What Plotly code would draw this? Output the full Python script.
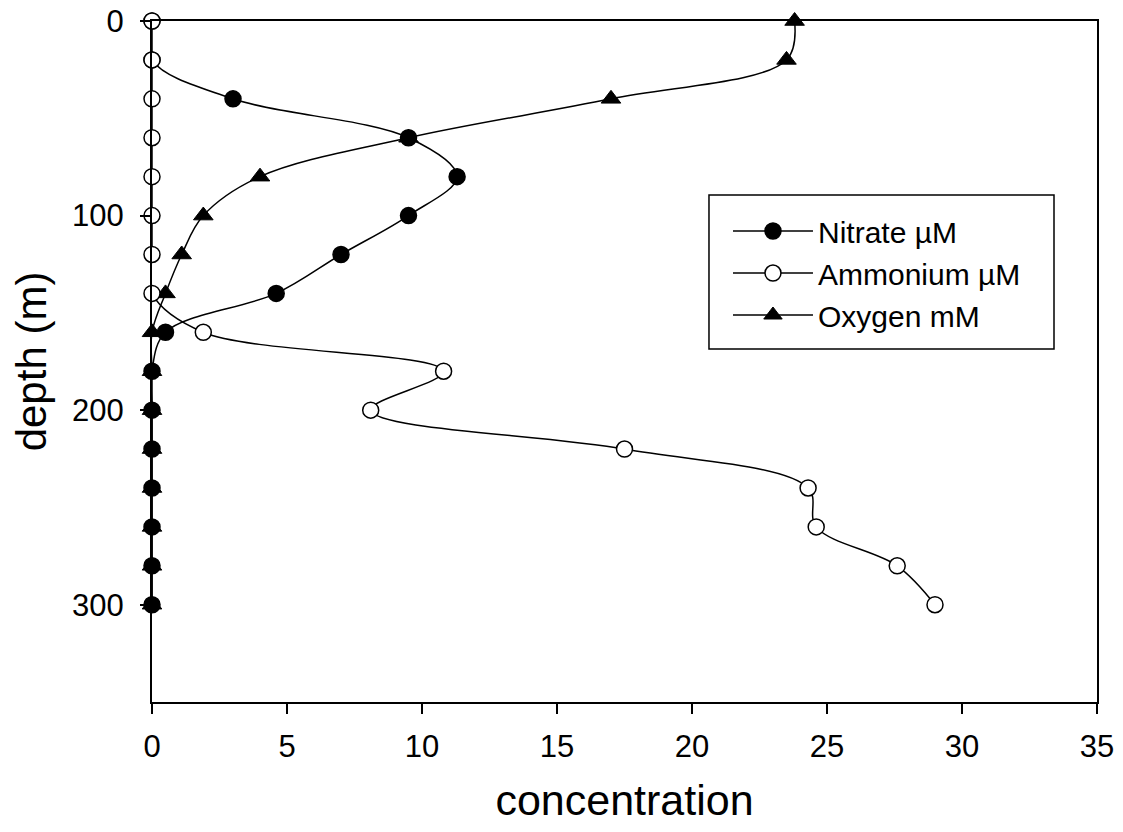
import plotly.graph_objects as go

depth = [0, 20, 40, 60, 80, 100, 120, 140, 160, 180, 200, 220, 240, 260, 280, 300]
nitrate = [0, 0, 3.0, 9.5, 11.3, 9.5, 7.0, 4.6, 0.5, 0, 0, 0, 0, 0, 0, 0]
ammonium = [0, 0, 0, 0, 0, 0, 0, 0, 1.9, 10.8, 8.1, 17.5, 24.3, 24.6, 27.6, 29.0]
oxygen = [23.8, 23.5, 17.0, 9.5, 4.0, 1.9, 1.1, 0.5, 0, 0, 0, 0, 0, 0, 0, 0]

x_ticks = [0, 5, 10, 15, 20, 25, 30, 35]
y_ticks = [0, 100, 200, 300]

FONT = "Liberation Sans, Arial, sans-serif"

fig = go.Figure()
line = dict(color="black", width=1.5, shape="spline", smoothing=1)

fig.add_trace(go.Scatter(
    x=oxygen, y=depth, name="Oxygen mM", mode="lines+markers", legendrank=3,
    line=line, cliponaxis=False,
    marker=dict(symbol="triangle-up", size=17, color="black", line=dict(color="black", width=1)),
))
fig.add_trace(go.Scatter(
    x=nitrate, y=depth, name="Nitrate µM", mode="lines+markers", legendrank=1,
    line=line, cliponaxis=False,
    marker=dict(symbol="circle", size=16, color="black", line=dict(color="black", width=1.5)),
))
fig.add_trace(go.Scatter(
    x=ammonium, y=depth, name="Ammonium µM", mode="lines+markers", legendrank=2,
    line=line, cliponaxis=False,
    marker=dict(symbol="circle", size=16, color="white", line=dict(color="black", width=1.5)),
))

# legend frame (style only)
fig.add_shape(type="rect", xref="paper", yref="paper",
              x0=0.5894, x1=0.9545, y0=0.5184, y1=0.7445,
              line=dict(color="black", width=1.5), fillcolor="white", layer="below")

# page body has an 8px margin: figure sized/offset to land at the reference positions
fig.update_layout(
    width=1107, height=816,
    margin=dict(l=144, r=18, t=13, b=122),
    paper_bgcolor="white", plot_bgcolor="white",
    font=dict(family=FONT, color="black", size=30),
    showlegend=True,
    legend=dict(
        x=0.6095, y=0.7298, xanchor="left", yanchor="top",
        bgcolor="rgba(0,0,0,0)", borderwidth=0,
        font=dict(size=30, family=FONT, color="black"),
        tracegroupgap=0, itemwidth=80,
    ),
    xaxis=dict(
        range=[0, 35], tickvals=x_ticks, ticktext=[str(v) for v in x_ticks],
        showgrid=False, zeroline=False, automargin=False,
        showline=True, linecolor="black", linewidth=2, mirror=True,
        ticks="outside", ticklen=10, tickwidth=1.5, tickcolor="black",
        ticklabelstandoff=6, ticklabeloverflow="allow",
        tickfont=dict(size=31, family=FONT),
        title=dict(text="concentration", font=dict(size=43, family=FONT), standoff=32),
    ),
    yaxis=dict(
        range=[350, 0], tickvals=y_ticks, ticktext=[str(v) for v in y_ticks],
        showgrid=False, zeroline=False, automargin=False,
        showline=True, linecolor="black", linewidth=2, mirror=True,
        ticks="outside", ticklen=10, tickwidth=1.5, tickcolor="black",
        ticklabelstandoff=10, ticklabeloverflow="allow",
        tickfont=dict(size=31, family=FONT),
        title=dict(text="depth (m)", font=dict(size=42, family=FONT), standoff=25),
    ),
)

fig.write_html("out.html")
